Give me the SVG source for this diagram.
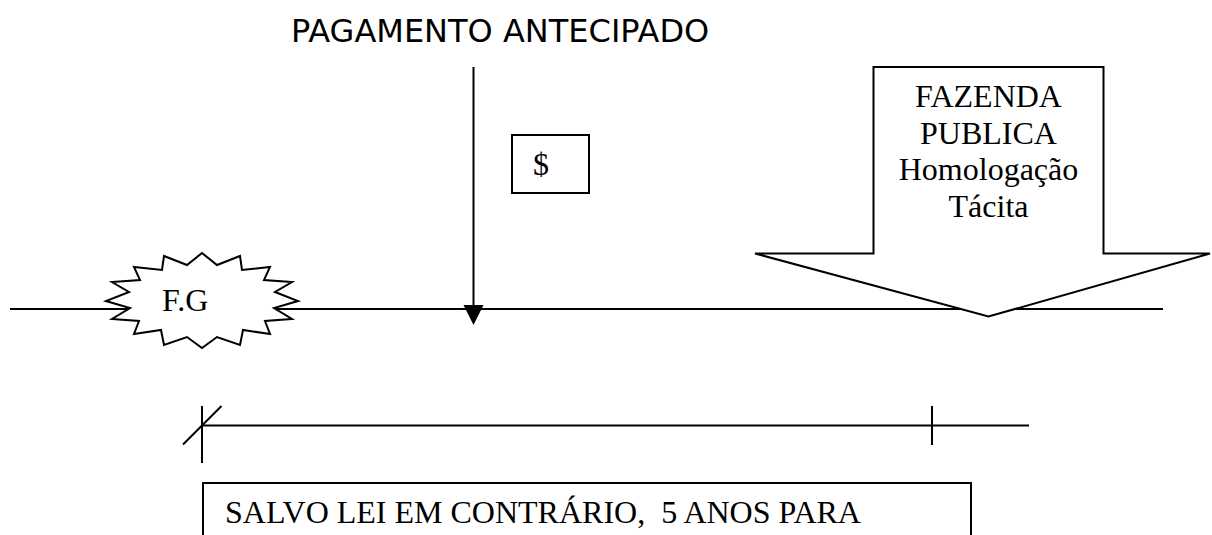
<svg xmlns="http://www.w3.org/2000/svg" width="1212" height="535" viewBox="0 0 1212 535">
<style>
.ln{stroke:#000;stroke-width:2;fill:none}
.shape{stroke:#000;stroke-width:2;fill:#fff}
.serif{font-family:"Liberation Serif","Times New Roman",serif;font-size:32px;fill:#000;white-space:pre}
.sans{font-family:"DejaVu Sans",Verdana,sans-serif;font-size:32px;fill:#000}
</style>
<rect width="1212" height="535" fill="#fff"/>
<g id="connectors">
<line class="ln" x1="10" y1="309" x2="1163" y2="309"/>
<line class="ln" x1="473.5" y1="67" x2="473.5" y2="305"/>
<path d="M463.5,305 L483.5,305 L473.5,325 Z" fill="#000"/>
<line class="ln" x1="202" y1="425.5" x2="1029" y2="425.5"/>
<line class="ln" x1="202" y1="406" x2="202" y2="463"/>
<line class="ln" x1="183" y1="444.5" x2="221.5" y2="406"/>
<line class="ln" x1="932" y1="406" x2="932" y2="445"/>
</g>
<g id="title">
<text class="sans" x="291" y="42">PAGAMENTO ANTECIPADO</text>
</g>
<g id="fg">
<polygon class="shape" points="202,253 217,265 240,256 242,270 270,267 264,280 292,282 275,292 298,301 274,308 292,319 265,321 270,334 243,330 240,345 217,337 202,348 187,337 164,345 161,330 134,334 139,321 112,319 130,308 106,301 129,292 112,282 140,280 134,267 162,270 164,256 187,265"/>
<text class="serif" x="162" y="310.5">F.G</text>
</g>
<g id="dollar">
<rect class="shape" x="512" y="135" width="77" height="58"/>
<text class="serif" x="533" y="175">$</text>
</g>
<g id="fazenda">
<polygon class="shape" points="873.5,67 1103.5,67 1103.5,253.5 1210,253.5 988.5,316.5 755,253.5 873.5,253.5"/>
<text class="serif" text-anchor="middle" x="988.5" y="107">FAZENDA</text>
<text class="serif" text-anchor="middle" x="988.5" y="143.5">PUBLICA</text>
<text class="serif" text-anchor="middle" x="988.5" y="180">Homologação</text>
<text class="serif" text-anchor="middle" x="988.5" y="216.5">Tácita</text>
</g>
<g id="salvo">
<rect class="shape" x="203" y="483" width="768" height="100"/>
<text class="serif" x="225" y="523" xml:space="preserve">SALVO LEI EM CONTRÁRIO,  5 ANOS PARA</text>
</g>
</svg>
